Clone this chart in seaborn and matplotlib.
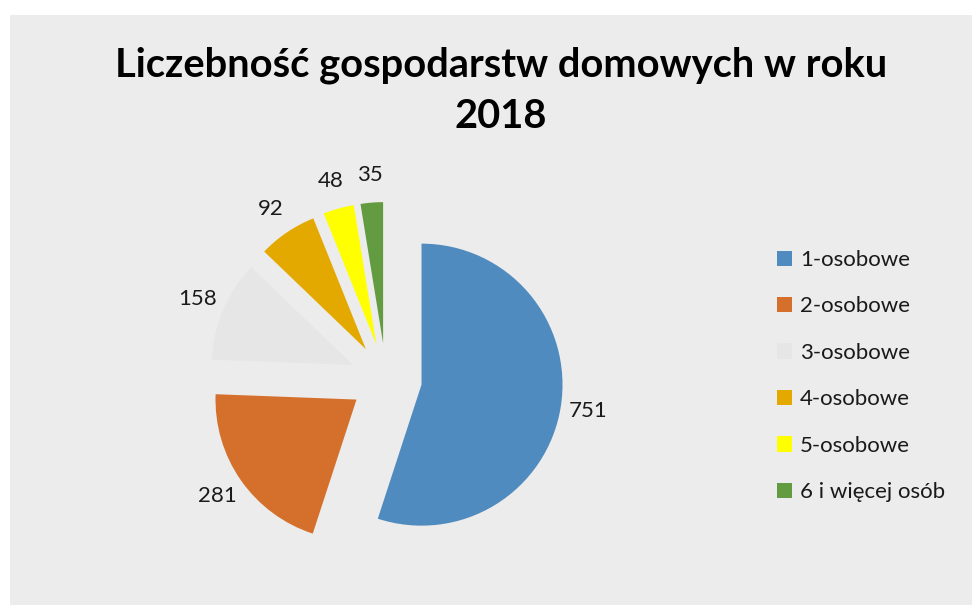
"""
Liczebność gospodarstw domowych w roku 2018 - exploded pie chart
"""
import matplotlib
matplotlib.use('Agg')
import matplotlib.pyplot as plt
from matplotlib.patches import Rectangle
import seaborn as sns

# Data
categories = ['1-osobowe', '2-osobowe', '3-osobowe', '4-osobowe', '5-osobowe', '6 i więcej osób']
counts = [751, 281, 158, 92, 48, 35]
colors = ['#508bbf', '#d5702c', '#e6e6e6', '#e3a900', '#ffff00', '#639b41']

sns.set_theme(style='white')
plt.rcParams['font.family'] = ['Lato', 'DejaVu Sans']

W, H = 973, 605
fig = plt.figure(figsize=(W / 100, H / 100), dpi=100)
fig.patch.set_facecolor('white')

# gray chart area (white strip on top and left)
fig.patches.append(Rectangle((10 / W, 0), 962 / W, 1 - 15 / H, transform=fig.transFigure,
                             facecolor='#ececec', edgecolor='none', zorder=-10))

# pie centre in pixels and radius
cx, cy, r = 386, 379, 141
ax = fig.add_axes([0, 0, 1, 1])
wedges, texts = ax.pie(counts, colors=colors, startangle=90, counterclock=False,
                       explode=[0.255] * len(counts), labels=[str(v) for v in counts],
                       labeldistance=1.2, wedgeprops=dict(linewidth=0),
                       textprops=dict(fontsize=16, color='#1a1a1a'))
for t in texts:
    t.set_ha('center')
    t.set_va('center')
ax.set_aspect('auto')
ax.set_xlim(-cx / r, (W - cx) / r)
ax.set_ylim(-(H - cy) / r, cy / r)
ax.axis('off')

fig.text(501 / W, 1 - 65 / H, 'Liczebność gospodarstw domowych w roku', ha='center', va='center',
         fontsize=28.7, fontweight='bold', color='black')
fig.text(501 / W, 1 - 117 / H, '2018', ha='center', va='center',
         fontsize=28.7, fontweight='bold', color='black')

leg = ax.legend(wedges, categories, loc='upper left', bbox_to_anchor=(777 / W, 1 - 250 / H),
                bbox_transform=fig.transFigure, frameon=False, fontsize=16,
                handlelength=0.68, handleheight=0.68, handletextpad=0.35,
                labelspacing=1.19, borderpad=0, borderaxespad=0)
for txt in leg.get_texts():
    txt.set_color('#1a1a1a')

plt.savefig('out.png', dpi=100)
